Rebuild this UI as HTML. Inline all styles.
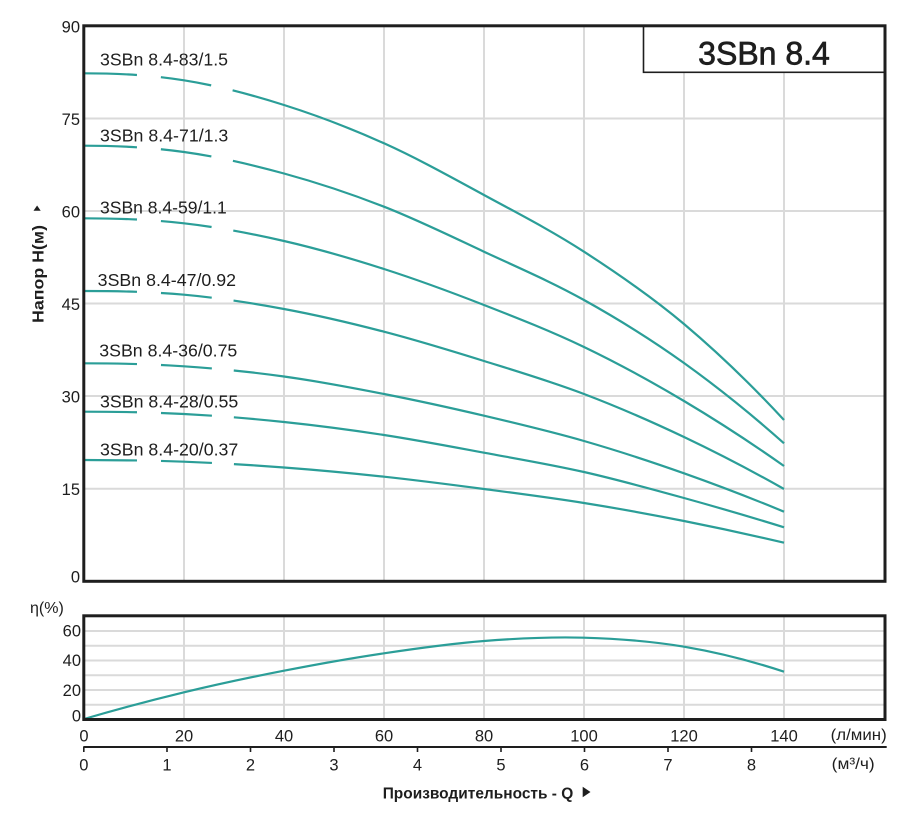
<!DOCTYPE html>
<html><head><meta charset="utf-8"><style>
html,body{margin:0;padding:0;background:#fff;}
svg{display:block;}
text{font-family:"Liberation Sans",Arial,sans-serif;fill:#1e1e1e;}
</style></head><body>
<svg width="913" height="819" viewBox="0 0 913 819" xmlns="http://www.w3.org/2000/svg">
<rect x="0" y="0" width="913" height="819" fill="#fff"/>
<!-- top chart grid -->
<g stroke="#dadada" stroke-width="2" fill="none">
<path d="M184,26V581M284,26V581M384,26V581M484,26V581M584,26V581M684,26V581M784,26V581"/>
<path d="M84,118.5H885M84,211H885M84,303.5H885M84,396H885M84,488.7H885"/>
</g>
<!-- title box -->
<rect x="643.5" y="25.8" width="241.5" height="46.5" fill="#fff" stroke="#1e1e1e" stroke-width="1.6"/>
<text x="764" y="64.3" font-size="32" text-anchor="middle" stroke="#1e1e1e" stroke-width="0.7">3SBn 8.4</text>
<!-- curves -->
<g stroke="#2b9e98" stroke-width="2.2" fill="none" stroke-dasharray="53 24 51 22 3000" stroke-linecap="butt">
<path d="M84,73.3 C117.3,73.3 150.7,75.02 184,80.3 C217.3,85.58 250.7,94.5 284,105 C317.3,115.5 350.7,128.3 384,143.3 C417.3,158.3 450.7,176.93 484,195 C517.3,213.07 550.7,230.2 584,251.7 C617.3,273.2 650.7,295.95 684,324 C717.3,352.05 750.7,384.05 784,420"/>
<path d="M84,145.7 C117.3,145.7 150.7,147.37 184,152 C217.3,156.63 250.7,164.38 284,173.5 C317.3,182.62 350.7,193.67 384,206.7 C417.3,219.73 450.7,236.15 484,251.7 C517.3,267.25 550.7,281.45 584,300 C617.3,318.55 650.7,339.12 684,363 C717.3,386.88 750.7,413.65 784,443.3"/>
<path d="M84,218.3 C117.3,218.3 150.7,219.52 184,223.3 C217.3,227.08 250.7,233.38 284,241 C317.3,248.62 350.7,258.33 384,269 C417.3,279.67 450.7,292 484,305 C517.3,318 550.7,331 584,347 C617.3,363 650.7,381.17 684,401 C717.3,420.83 750.7,442.5 784,466"/>
<path d="M84,291 C117.3,291 150.7,291.7 184,294.7 C217.3,297.7 250.7,302.83 284,309 C317.3,315.17 350.7,323.03 384,331.7 C417.3,340.37 450.7,350.62 484,361 C517.3,371.38 550.7,381.33 584,394 C617.3,406.67 650.7,421.17 684,437 C717.3,452.83 750.7,470.17 784,489"/>
<path d="M84,363.3 C117.3,363.3 150.7,364.1 184,366.3 C217.3,368.5 250.7,371.88 284,376.5 C317.3,381.12 350.7,387.47 384,394 C417.3,400.53 450.7,407.87 484,415.7 C517.3,423.53 550.7,431.4 584,441 C617.3,450.6 650.7,461.52 684,473.3 C717.3,485.08 750.7,497.88 784,511.7"/>
<path d="M84,411.7 C117.3,411.7 150.7,412.28 184,414 C217.3,415.72 250.7,418.5 284,422 C317.3,425.5 350.7,429.88 384,435 C417.3,440.12 450.7,446.53 484,452.7 C517.3,458.87 550.7,464.45 584,472 C617.3,479.55 650.7,488.78 684,498 C717.3,507.22 750.7,516.98 784,527.3"/>
<path d="M84,460 C117.3,460 150.7,460.45 184,461.7 C217.3,462.95 250.7,465 284,467.5 C317.3,470 350.7,473.12 384,476.7 C417.3,480.28 450.7,484.62 484,489 C517.3,493.38 550.7,497.67 584,503 C617.3,508.33 650.7,514.38 684,521 C717.3,527.62 750.7,534.85 784,542.7"/>
</g>
<!-- curve labels -->
<g font-size="17.5">
<text x="100" y="65.5" textLength="128" lengthAdjust="spacingAndGlyphs">3SBn 8.4-83/1.5</text>
<text x="100" y="141.7" textLength="128.3" lengthAdjust="spacingAndGlyphs">3SBn 8.4-71/1.3</text>
<text x="100" y="213.3" textLength="126.7" lengthAdjust="spacingAndGlyphs">3SBn 8.4-59/1.1</text>
<text x="97.7" y="286" textLength="138.3" lengthAdjust="spacingAndGlyphs">3SBn 8.4-47/0.92</text>
<text x="99.3" y="356.7" textLength="138" lengthAdjust="spacingAndGlyphs">3SBn 8.4-36/0.75</text>
<text x="100" y="407.3" textLength="138.3" lengthAdjust="spacingAndGlyphs">3SBn 8.4-28/0.55</text>
<text x="100" y="455.3" textLength="138.3" lengthAdjust="spacingAndGlyphs">3SBn 8.4-20/0.37</text>
</g>
<!-- top y ticks -->
<g font-size="16.5" text-anchor="end">
<text x="80" y="32.3">90</text>
<text x="80" y="125">75</text>
<text x="80" y="217.7">60</text>
<text x="80" y="310">45</text>
<text x="80" y="402.3">30</text>
<text x="80" y="495">15</text>
<text x="80" y="582.7">0</text>
</g>
<!-- y title -->
<text transform="translate(43.5,274) rotate(-90)" font-size="16" font-weight="bold" text-anchor="middle" textLength="98" lengthAdjust="spacingAndGlyphs">Напор Н(м)</text>
<path d="M33.5,210.7 L40.7,210.7 L37.1,205.5 Z" fill="#1e1e1e"/>
<!-- bottom chart grid -->
<g stroke="#dadada" stroke-width="2" fill="none">
<path d="M184,616V719M284,616V719M384,616V719M484,616V719M584,616V719M684,616V719M784,616V719"/>
<path d="M84,631H885M84,645.75H885M84,660.5H885M84,675.25H885M84,690H885M84,704.75H885"/>
</g>
<path d="M84,719 C117.3,709.25 150.7,700.35 184,692.3 C217.3,684.25 250.7,677.2 284,670.7 C317.3,664.2 350.7,658.25 384,653.3 C417.3,648.35 450.7,643.6 484,641 C517.3,638.4 550.7,636.75 584,637.7 C617.3,638.65 650.7,641.03 684,646.7 C717.3,652.37 750.7,660.7 784,671.7" stroke="#2b9e98" stroke-width="2.2" fill="none"/>
<!-- frames -->
<rect x="83.8" y="25.8" width="801.2" height="555.5" fill="none" stroke="#1e1e1e" stroke-width="3"/>
<rect x="83.8" y="615.8" width="801.2" height="103.7" fill="none" stroke="#1e1e1e" stroke-width="3"/>
<!-- eta labels -->
<text x="30" y="613" font-size="16">η(%)</text>
<g font-size="16.5" text-anchor="end">
<text x="81" y="636.7">60</text>
<text x="81" y="666">40</text>
<text x="81" y="696">20</text>
<text x="81" y="721.7">0</text>
</g>
<!-- l/min axis labels -->
<g font-size="16.5" text-anchor="middle">
<text x="84" y="741.7">0</text>
<text x="184" y="741.7">20</text>
<text x="284" y="741.7">40</text>
<text x="384" y="741.7">60</text>
<text x="484" y="741.7">80</text>
<text x="584" y="741.7">100</text>
<text x="684" y="741.7">120</text>
<text x="784" y="741.7">140</text>
</g>
<text x="830.7" y="740" font-size="16" textLength="56" lengthAdjust="spacingAndGlyphs">(л/мин)</text>
<!-- m3/h axis -->
<path d="M83.3,747H886.7" stroke="#1e1e1e" stroke-width="2"/>
<g stroke="#1e1e1e" stroke-width="1.6">
<path d="M83.8,747V752M167,747V752M250.5,747V752M334,747V752M417.5,747V752M501,747V752M584.5,747V752M668,747V752M751.5,747V752"/>
</g>
<g font-size="16.5" text-anchor="middle">
<text x="83.8" y="770.7">0</text>
<text x="167" y="770.7">1</text>
<text x="250.5" y="770.7">2</text>
<text x="334" y="770.7">3</text>
<text x="417.5" y="770.7">4</text>
<text x="501" y="770.7">5</text>
<text x="584.5" y="770.7">6</text>
<text x="668" y="770.7">7</text>
<text x="751.5" y="770.7">8</text>
</g>
<text x="831.7" y="769" font-size="16" textLength="43" lengthAdjust="spacingAndGlyphs">(м³/ч)</text>
<!-- x title -->
<text x="382.7" y="798.3" font-size="16" font-weight="bold" textLength="190.6" lengthAdjust="spacingAndGlyphs">Производительность - Q</text>
<path d="M582.7,786.8 L582.7,797.2 L590.5,792 Z" fill="#1e1e1e"/>
</svg>
</body></html>
